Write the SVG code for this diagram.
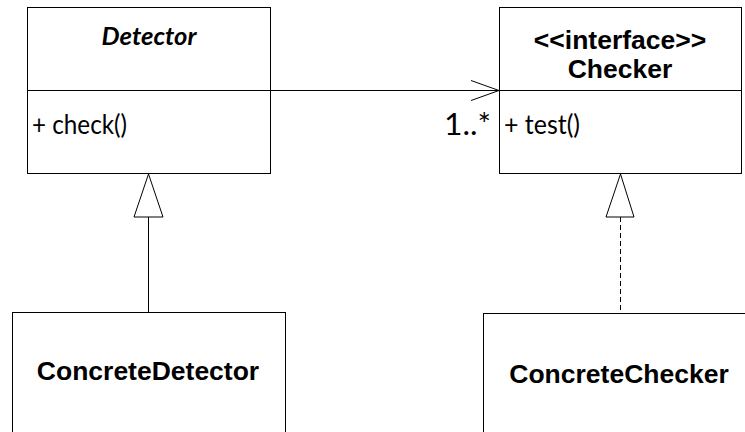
<svg xmlns="http://www.w3.org/2000/svg" width="745" height="432" viewBox="0 0 745 432">
<style>
.box{fill:#fff;stroke:#000;stroke-width:1}
.ln{fill:none;stroke:#000;stroke-width:1}
.tri{fill:#fff;stroke:#000;stroke-width:1}
.bold{font-family:"Liberation Sans",Arial,sans-serif;font-weight:bold;font-size:26.5px;fill:#000}
.cal{font-family:Lato,"Liberation Sans",sans-serif;font-size:26px;fill:#000}
</style>
<rect width="745" height="432" fill="#fff"/>
<g id="connectors">
  <line class="ln" x1="271" y1="90.5" x2="499" y2="90.5"/>
  <polyline class="ln" points="471,80.5 499,90.5 471,100.5"/>
  <text class="cal" x="444" y="135" style="font-size:30px" textLength="47" lengthAdjust="spacingAndGlyphs">1..*</text>
  <line class="ln" x1="148.5" y1="217" x2="148.5" y2="312"/>
  <polygon class="tri" points="148.5,174 134,217 163,217"/>
  <line class="ln" x1="620.5" y1="217" x2="620.5" y2="313" stroke-dasharray="5,3"/>
  <polygon class="tri" points="620.5,174 606,217 634,217"/>
</g>
<g id="Detector">
  <rect class="box" x="27.5" y="7.5" width="243" height="166"/>
  <line class="ln" x1="27.5" y1="90.5" x2="270.5" y2="90.5"/>
  <text class="cal" x="149" y="45" text-anchor="middle" style="font-size:24px;font-weight:bold;font-style:italic" textLength="95" lengthAdjust="spacingAndGlyphs">Detector</text>
  <text class="cal" x="32" y="134" textLength="95" lengthAdjust="spacingAndGlyphs">+ check()</text>
</g>
<g id="Checker">
  <rect class="box" x="499.5" y="7.5" width="242" height="166"/>
  <line class="ln" x1="499.5" y1="90.5" x2="741.5" y2="90.5"/>
  <text class="bold" x="620" y="49" text-anchor="middle">&lt;&lt;interface&gt;&gt;</text>
  <text class="bold" x="620" y="78" text-anchor="middle">Checker</text>
  <text class="cal" x="504" y="134" textLength="76" lengthAdjust="spacingAndGlyphs">+ test()</text>
</g>
<g id="ConcreteDetector">
  <rect class="box" x="12.5" y="312.5" width="273" height="140"/>
  <text class="bold" x="148" y="380" text-anchor="middle">ConcreteDetector</text>
</g>
<g id="ConcreteChecker">
  <rect class="box" x="483.5" y="313.5" width="274" height="140"/>
  <text class="bold" x="619" y="383" text-anchor="middle">ConcreteChecker</text>
</g>
</svg>
